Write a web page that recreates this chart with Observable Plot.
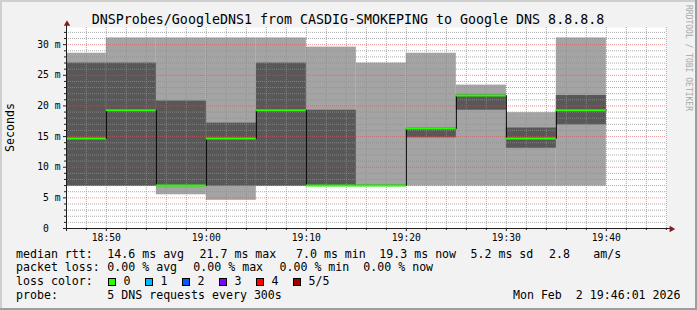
<!DOCTYPE html>
<html><head><meta charset="utf-8">
<script src="https://cdn.jsdelivr.net/npm/d3@7"></script>
<script src="https://cdn.jsdelivr.net/npm/@observablehq/plot@0.6"></script>
<style>
html,body{margin:0;padding:0;background:#f2f2f2;}
svg text{white-space:pre;}
</style>
</head><body>
<div id="chart"></div>
<script>
// ---- data (5 pings per 300 s step, sorted; times = end of step) ----
const times  = ["18:50","18:55","19:00","19:05","19:10","19:15","19:20","19:25","19:30","19:35","19:40"];
const ping1  = [6.9, 6.9, 5.5, 4.6, 6.9, 6.9, 6.9, 6.9, 6.9, 6.9, 6.9];
const ping2  = [6.9, 6.9, 6.9, 6.9, 6.9, 6.9, 6.9, 14.8, 19.3, 13.1, 16.9];
const median = [14.7, 19.3, 7.0, 14.7, 19.3, 7.0, 7.0, 16.3, 21.7, 14.7, 19.3];
const ping4  = [27.0, 27.0, 20.8, 17.2, 27.0, 19.3, 7.1, 16.4, 21.8, 16.4, 21.7];
const ping5  = [28.6, 31.1, 31.1, 31.1, 31.1, 29.6, 27.0, 28.6, 23.4, 18.9, 31.1];

const stepMinutes = 5;
const windowStart = "18:46:01", windowEnd = "19:46:01";
const xTickLabels = ["18:50","19:00","19:10","19:20","19:30","19:40"];
const yTickValues = [0, 5, 10, 15, 20, 25, 30];
const yTickLabels = ["0  ", "5 m", "10 m", "15 m", "20 m", "25 m", "30 m"];
const yMax = 32.8;

const titleText = "DNSProbes/GoogleDNS1 from CASDIG-SMOKEPING to Google DNS 8.8.8.8";
const yLabel = "Seconds";
const watermark = "RRDTOOL / TOBI OETIKER";
const legendRow1 = [["median rtt:",16],["14.6 ms avg",107.3],["21.7 ms max",199.5],["7.0 ms min",296],["19.3 ms now",379.3],["5.2 ms sd",470.5],["2.8",549],["am/s",593.3]];
const legendRow2 = [["packet loss:",16],["0.00 % avg",107.3],["0.00 % max",193.3],["0.00 % min",279.5],["0.00 % now",363.3]];
const lossLabels = ["0","1","2","3","4","5/5"];
const lossColors = ["#26ff00","#00b8ff","#0059ff","#7e00ff","#ff0000","#a10000"];
const probeText = "5 DNS requests every 300s";
const dateText = "Mon Feb  2 19:46:01 2026";

// ---- helpers ----
const toMin = s => { const p = s.split(":").map(Number); return p[0]*60 + p[1] + (p[2]||0)/60; };
const t0 = toMin(windowStart), t1 = toMin(windowEnd);
const bins = times.map((t,i) => ({end: toMin(t), start: toMin(t) - stepMinutes,
  p1: ping1[i], p2: ping2[i], med: median[i], p4: ping4[i], p5: ping5[i]}));
const stepPts = bins.map(b => ({x: b.start, y: b.med})).concat([{x: bins[bins.length-1].end, y: bins[bins.length-1].med}]);

const majorX = xTickLabels.map(toMin);
const minorX = d3.range(Math.ceil(t0/2)*2, t1, 2).filter(v => !majorX.includes(v));
const minorY = d3.range(1, Math.floor(yMax)+1).filter(v => v % 5 !== 0);
const majorY = yTickValues.filter(v => v > 0);

const gridStyle = {stroke: "#8f8f8f", strokeOpacity: 0.75, strokeDasharray: "1,1"};
const mgridStyle = {stroke: "#de4f4f", strokeOpacity: 0.6, strokeDasharray: "1,1"};
const font = "DejaVu Sans Mono";

const chart = Plot.plot({
  width: 697, height: 310,
  marginLeft: 66, marginRight: 31, marginTop: 27, marginBottom: 82,
  style: {background: "#f2f2f2", fontFamily: font, fontSize: "9.7px", color: "#000", overflow: "visible"},
  x: {domain: [t0, t1], axis: null},
  y: {domain: [0, yMax], axis: null},
  marks: [
    Plot.frame({fill: "white", stroke: null}),
    Plot.rect(bins, {x1: "start", x2: "end", y1: "p1", y2: "p5", fill: "#a4a4a4", clip: true}),
    Plot.rect(bins, {x1: "start", x2: "end", y1: "p2", y2: "p4", fill: "#585858", clip: true}),
    Plot.ruleY(minorY, gridStyle),
    Plot.ruleX(minorX, gridStyle),
    Plot.ruleY(majorY, mgridStyle),
    Plot.ruleX(majorX, mgridStyle),
    Plot.line(stepPts, {x: "x", y: "y", curve: "step-after", stroke: "#000", strokeWidth: 1, clip: true}),
    Plot.ruleY(bins, {x1: "start", x2: "end", y: "med", stroke: "#26ff00", strokeWidth: 2, clip: true}),
    // axes
    Plot.axisY({ticks: minorY, tickSize: 2, tickFormat: () => "", stroke: "#1f1f1f"}),
    Plot.axisY({ticks: yTickValues, tickSize: 3, tickPadding: 3, stroke: "#1f1f1f",
      tickFormat: d => yTickLabels[yTickValues.indexOf(d)], fontSize: "9.7px", fill: "#000"}),
    Plot.axisX({ticks: minorX, tickSize: 2, tickFormat: () => "", stroke: "#1f1f1f"}),
    Plot.axisX({ticks: majorX, tickSize: 3, tickPadding: 3, stroke: "#1f1f1f",
      tickFormat: d => xTickLabels[majorX.indexOf(d)], fontSize: "9.7px", fill: "#000"}),
    Plot.ruleY([0], {stroke: "#1f1f1f", insetLeft: -3, insetRight: -5}),
    Plot.ruleX([t0], {stroke: "#1f1f1f", insetTop: -4, insetBottom: -3}),
    Plot.dot([0], {frameAnchor: "top-left", dx: 0.5, dy: -3.5, symbol: "triangle", r: 2.4, fill: "#801f1f", stroke: null}),
    Plot.dot([0], {frameAnchor: "bottom-right", dx: 5, dy: 0.5, symbol: "triangle", rotate: 90, r: 2.4, fill: "#801f1f", stroke: null})
  ]
});

const svg = d3.select(chart);
// 3D border
svg.append("rect").attr("x", 0).attr("y", 0).attr("width", 697).attr("height", 2).attr("fill", "#cfcfcf");
svg.append("rect").attr("x", 0).attr("y", 0).attr("width", 2).attr("height", 310).attr("fill", "#cfcfcf");
svg.append("rect").attr("x", 0).attr("y", 308).attr("width", 697).attr("height", 2).attr("fill", "#9e9e9e");
svg.append("rect").attr("x", 695).attr("y", 0).attr("width", 2).attr("height", 310).attr("fill", "#9e9e9e");

const txt = (x, y, s, size, opts = {}) => svg.append("text").attr("x", x).attr("y", y)
  .attr("font-family", font).attr("font-size", size).attr("fill", opts.fill || "#000")
  .attr("text-anchor", opts.anchor || "start").attr("transform", opts.transform || null).text(s);

txt(348, 23.5, titleText, "13.3px", {anchor: "middle"});
txt(0, 0, yLabel, "11.6px", {anchor: "middle", transform: "translate(14,127.5) rotate(-90)"});
txt(0, 0, watermark, "8px", {fill: "#a8a8a8", transform: "translate(686,5) rotate(90)"});

legendRow1.forEach(([s, x]) => txt(x, 257.7, s, "11.6px"));
legendRow2.forEach(([s, x]) => txt(x, 271.3, s, "11.6px"));
txt(16, 284.9, "loss color:", "11.6px");
lossLabels.forEach((s, i) => {
  const x = 108.5 + i * 37;
  svg.append("rect").attr("x", x).attr("y", 278.5).attr("width", 7).attr("height", 7)
    .attr("fill", lossColors[i]).attr("stroke", "#000").attr("stroke-width", 1);
  txt(x + 15, 284.9, s, "11.6px");
});
txt(16, 298.5, "probe:", "11.6px");
txt(107.3, 298.5, probeText, "11.6px");
txt(680.5, 298.5, dateText, "11.6px", {anchor: "end"});

document.getElementById("chart").appendChild(chart);
</script>
</body></html>
